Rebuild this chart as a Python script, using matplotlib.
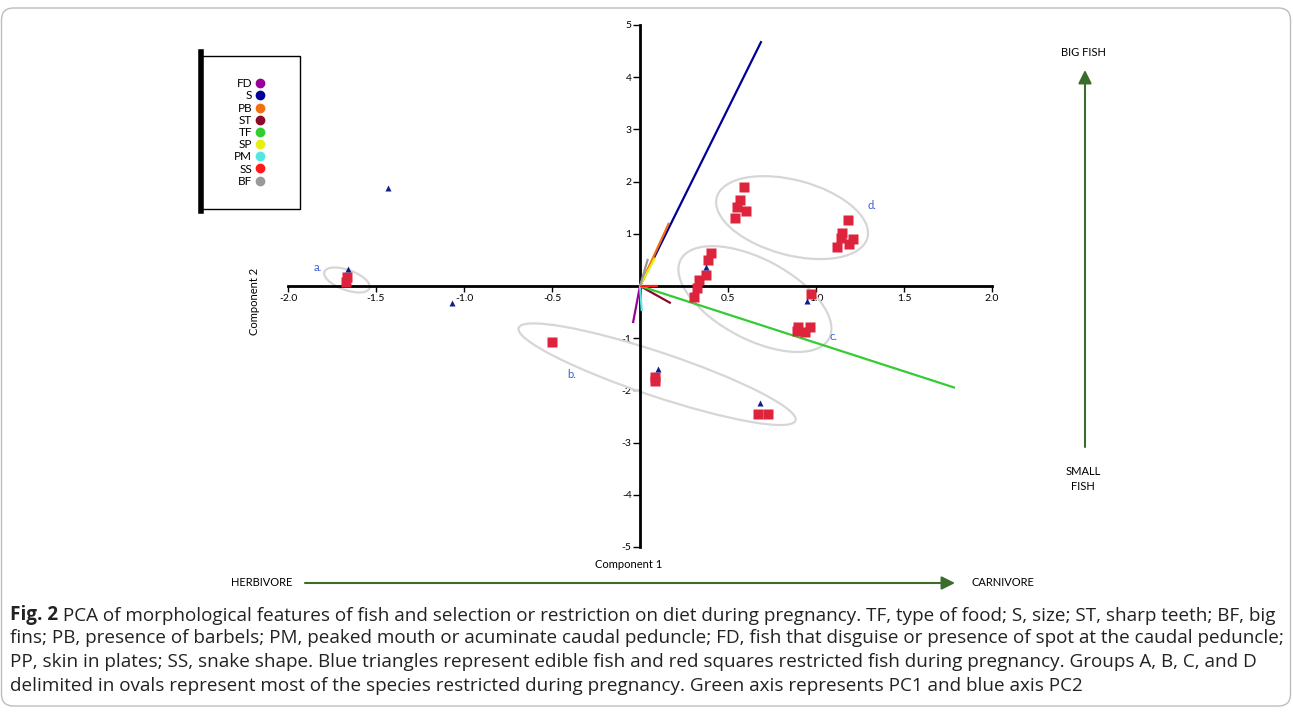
import matplotlib
matplotlib.use("Agg")
import matplotlib.pyplot as plt
from matplotlib.patches import Ellipse, Rectangle, FancyBboxPatch
from matplotlib.lines import Line2D
from matplotlib.transforms import Affine2D, IdentityTransform

plt.rcParams['font.family'] = ['Lato', 'DejaVu Sans']

# edible fish (blue triangles)
edible_pc1 = [-1.66, -1.43, -1.07, 0.10, 0.68, 0.375, 0.95]
edible_pc2 = [0.33, 1.88, -0.33, -1.59, -2.24, 0.36, -0.29]

# restricted fish (red squares)
restricted_pc1 = [-1.665, -1.67, -0.50, 0.085, 0.085, 0.67, 0.73,
                  0.307, 0.324, 0.335, 0.375, 0.386, 0.403,
                  0.97, 0.89, 0.90, 0.94, 0.966,
                  0.59, 0.57, 0.55, 0.60, 0.54,
                  1.18, 1.15, 1.14, 1.21, 1.19, 1.12]
restricted_pc2 = [0.17, 0.08, -1.07, -1.74, -1.82, -2.45, -2.45,
                  -0.21, -0.04, 0.11, 0.21, 0.50, 0.63,
                  -0.15, -0.86, -0.79, -0.88, -0.79,
                  1.90, 1.65, 1.51, 1.44, 1.30,
                  1.26, 1.02, 0.92, 0.90, 0.80, 0.75]

# loading vectors
loading_names = ['FD', 'S', 'PB', 'ST', 'TF', 'SP', 'PM', 'SS', 'BF']
loading_colors = ['#990099', '#000099', '#f07010', '#8b0a2a', '#33cc33',
                  '#e6ee14', '#55e6e0', '#ff1a1a', '#999999']
loading_pc1 = [-0.04, 0.69, 0.165, 0.175, 1.79, 0.085, 0.01, 0.10, 0.045]
loading_pc2 = [-0.71, 4.69, 1.21, -0.33, -1.95, 0.54, -0.48, 0.0, 0.52]

# groups (ovals): centre in data units, size in pixels, tilt in degrees
group_labels = ['a.', 'b.', 'c.', 'd.']
group_cx = [-1.665, 0.097, 0.653, 0.864]
group_cy = [0.115, -1.69, -0.25, 1.31]
group_w = [48, 292, 168, 156]
group_h = [20, 44, 80, 75]
group_angle = [-20, -18.5, -28, -15]
label_x = [-1.83, -0.39, 1.10, 1.32]
label_y = [0.36, -1.70, -0.96, 1.55]

xticks = [-2.0, -1.5, -1.0, -0.5, 0.5, 1.0, 1.5, 2.0]
yticks = [-5, -4, -3, -2, -1, 1, 2, 3, 4, 5]

W, H = 1293, 713
SX, SY = 176.0, 52.2  # pixels per unit on each axis

fig = plt.figure(figsize=(W / 100, H / 100), dpi=100)
ax = fig.add_axes([288 / W, 1 - 547 / H, 704 / W, 522 / H])
ax.patch.set_visible(False)
ax.set_xlim(-2, 2)
ax.set_ylim(-5, 5)

# cross-shaped axes
for side in ('top', 'right'):
    ax.spines[side].set_visible(False)
ax.spines['left'].set_position(('data', 0))
ax.spines['bottom'].set_position(('data', 0))
ax.spines['left'].set_linewidth(2)
ax.spines['bottom'].set_linewidth(2)
ax.set_xticks(xticks)
ax.set_xticklabels(['%.1f' % t for t in xticks])
ax.set_yticks(yticks)
ax.set_yticklabels([str(t) for t in yticks])
ax.tick_params(axis='x', direction='out', length=4, width=1, labelsize=7.5, pad=2)
ax.tick_params(axis='y', direction='out', length=5, width=1, labelsize=7.5, pad=1)

# loading vectors
for name, c, x, y in zip(loading_names, loading_colors, loading_pc1, loading_pc2):
    ax.plot([0, x], [0, y], color=c, lw=1.6, solid_capstyle='butt', zorder=3)

# ovals drawn in pixel units so that the tilt is the visual one
px = Affine2D().scale(1 / SX, 1 / SY) + ax.transData
for cx, cy, w, h, a in zip(group_cx, group_cy, group_w, group_h, group_angle):
    ax.add_patch(Ellipse((cx * SX, cy * SY), w, h, angle=a, transform=px,
                         fill=False, edgecolor='#d6d6d6', lw=1.6, zorder=2))
for lab, x, y in zip(group_labels, label_x, label_y):
    ax.text(x, y, lab, color='#3a5fcd', fontsize=8, ha='center', va='center')

ax.plot(restricted_pc1, restricted_pc2, 's', color='#de233c', ms=6.8,
        mec='none', zorder=4, clip_on=False)
ax.plot(edible_pc1, edible_pc2, '^', color='#0d1f8c', ms=5, mec='none',
        zorder=5, clip_on=False)

fig.text(629 / W, 1 - 565 / H, 'Component 1', fontsize=8, ha='center', va='center')
fig.text(255 / W, 1 - 301 / H, 'Component 2', fontsize=8, ha='center',
         va='center', rotation=90)

# legend of loading vectors
handles = [Line2D([], [], ls='none', marker='o', color=c, ms=6)
           for c in loading_colors]
leg = fig.legend(handles, loading_names, loc='center',
                 bbox_to_anchor=(249 / W, 1 - 132.5 / H), frameon=False,
                 markerfirst=False, fontsize=8.5, labelspacing=0.1,
                 handlelength=0.6, handletextpad=0.4, borderpad=0)
for t in leg.get_texts():
    t.set_ha('right')
fig.add_artist(Rectangle((201 / W, 1 - 209 / H), 99 / W, 153 / H,
                         transform=fig.transFigure, fill=False, lw=1,
                         edgecolor='black'))
fig.add_artist(Line2D([201 / W, 201 / W], [1 - 211 / H, 1 - 52 / H],
                      transform=fig.transFigure, color='black', lw=4))

# diet / size arrows
arrow_c = '#3d6b2c'
ax.annotate('', xy=(1085 / W, 1 - 70 / H), xytext=(1085 / W, 1 - 447 / H),
            xycoords='figure fraction', textcoords='figure fraction',
            arrowprops=dict(arrowstyle='-|>', color=arrow_c, lw=1.5,
                            mutation_scale=20, shrinkA=0, shrinkB=0))
ax.annotate('', xy=(955 / W, 1 - 583 / H), xytext=(305 / W, 1 - 583 / H),
            xycoords='figure fraction', textcoords='figure fraction',
            arrowprops=dict(arrowstyle='-|>', color=arrow_c, lw=1.5,
                            mutation_scale=20, shrinkA=0, shrinkB=0))
fig.text(1083 / W, 1 - 52 / H, 'BIG FISH', fontsize=8, ha='center', va='center')
fig.text(1083 / W, 1 - 479 / H, 'SMALL\nFISH', fontsize=8, ha='center',
         va='center', linespacing=1.5)
fig.text(262 / W, 1 - 583 / H, 'HERBIVORE', fontsize=8, ha='center', va='center')
fig.text(1003 / W, 1 - 583 / H, 'CARNIVORE', fontsize=8, ha='center', va='center')

# caption
cap_font = ['Open Sans', 'DejaVu Sans']
cap_size = 13.6
lines = [
    " PCA of morphological features of fish and selection or restriction on diet during pregnancy. TF, type of food; S, size; ST, sharp teeth; BF, big",
    "fins; PB, presence of barbels; PM, peaked mouth or acuminate caudal peduncle; FD, fish that disguise or presence of spot at the caudal peduncle;",
    "PP, skin in plates; SS, snake shape. Blue triangles represent edible fish and red squares restricted fish during pregnancy. Groups A, B, C, and D",
    "delimited in ovals represent most of the species restricted during pregnancy. Green axis represents PC1 and blue axis PC2",
]
line_y = [615, 638, 662, 686]
t0 = fig.text(10 / W, 1 - line_y[0] / H, 'Fig. 2', fontsize=cap_size,
              fontweight='bold', family=cap_font, va='center', color='#222222')
ax.annotate(lines[0], xy=(1, 0), xycoords=t0, va='bottom', ha='left',
            fontsize=cap_size, family=cap_font, color='#222222',
            annotation_clip=False)
for txt, y in zip(lines[1:], line_y[1:]):
    fig.text(10 / W, 1 - y / H, txt, fontsize=cap_size, family=cap_font,
             va='center', color='#222222')

# rounded frame round the whole figure
fig.add_artist(FancyBboxPatch((1.5, 7), 1289, 698,
                              boxstyle='round,pad=0,rounding_size=12',
                              transform=IdentityTransform(), fill=False,
                              edgecolor='#bdbdbd', lw=1))

fig.savefig('out.png', dpi=100)
